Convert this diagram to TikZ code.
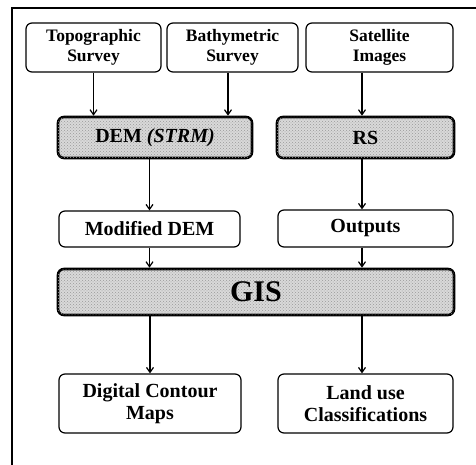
\documentclass[tikz,border=0pt]{standalone}
\usepackage{fontspec}
\setmainfont{Liberation Serif}
\usetikzlibrary{arrows.meta,patterns}
\tikzset{
  box/.style={draw, line width=1.2pt, rounded corners=6pt, align=center, inner sep=0pt,
    font=\bfseries\fontsize{17.5}{19.5}\selectfont},
  midbox/.style={box, font=\bfseries\fontsize{20}{22}\selectfont},
  shade/.style={draw, line width=2.6pt, rounded corners=6pt, align=center, inner sep=0pt,
    fill=gray!30, postaction={pattern=crosshatch dots, pattern color=gray!80},
    font=\bfseries\fontsize{20}{22}\selectfont},
  arr/.style={line width=1.4pt, -{Straight Barb[length=5pt,width=7pt,line width=1.2pt]}},
  frame/.style={line width=1.3pt}
}
\begin{document}
\begin{tikzpicture}[x=1pt,y=-1pt]
\useasboundingbox (0,0) rectangle (476,465);
\coordinate (fbl) at (12,465);
\coordinate (ftl) at (12,8);
\coordinate (ftr) at (476,8);
\draw[frame] (fbl) -- (ftl) -- (ftr);

\node[box, minimum width=135pt, minimum height=49pt] (topo) at (93.5,47.5) {Topographic\\Survey};
\node[box, minimum width=131pt, minimum height=49pt] (bathy) at (232.5,47.5) {Bathymetric\\Survey};
\node[box, minimum width=147pt, minimum height=49pt] (sat) at (379.5,47.5) {Satellite\\Images};

\node[shade, minimum width=194pt, minimum height=41pt] (dem) at (155,137.5) {DEM \textit{(STRM)}};
\node[shade, minimum width=177pt, minimum height=41pt] (rs) at (365.5,137.5) {RS};

\node[midbox, minimum width=181pt, minimum height=36pt] (mod) at (149.5,229) {Modified DEM};
\node[midbox, minimum width=175pt, minimum height=37pt] (out) at (365.5,228.5) {Outputs};

\node[shade, minimum width=396pt, minimum height=46pt, font=\bfseries\fontsize{30}{32}\selectfont] (gis) at (256,292) {GIS};

\node[midbox, minimum width=182pt, minimum height=59pt] (dig) at (150,403.5) {Digital Contour\\Maps};
\node[midbox, minimum width=175pt, minimum height=59pt] (land) at (365.5,403.5) {Land use\\Classifications};

\draw[arr] (topo.south) -- (topo.south |- dem.north);
\draw[arr] (bathy.south -| 228,0) -- (dem.north -| 228,0);
\draw[arr] (sat.south -| 362,0) -- (rs.north -| 362,0);
\draw[arr] (dem.south -| mod.north) -- (mod.north);
\draw[arr] (rs.south -| 362,0) -- (out.north -| 362,0);
\draw[arr] (mod.south) -- (mod.south |- gis.north);
\draw[arr] (out.south -| 362,0) -- (gis.north -| 362,0);
\draw[arr] (gis.south -| dig.north) -- (dig.north);
\draw[arr] (gis.south -| 362,0) -- (land.north -| 362,0);
\end{tikzpicture}
\end{document}
